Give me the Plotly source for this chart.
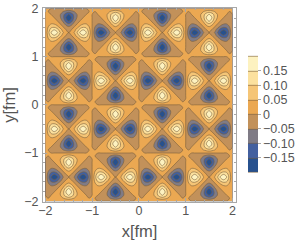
import plotly.graph_objects as go

# one quadrant of a unit cell: rows |v| = 0..1, columns |u| = 0..1
quadrant = [
    [0.000, 0.022, 0.056, 0.106, 0.164, 0.186, 0.152, 0.082, 0.000],
    [-0.020, 0.000, 0.032, 0.074, 0.124, 0.146, 0.124, 0.068, 0.000],
    [-0.052, -0.030, 0.000, 0.032, 0.064, 0.084, 0.080, 0.048, 0.000],
    [-0.102, -0.072, -0.030, 0.000, 0.026, 0.043, 0.046, 0.031, 0.000],
    [-0.166, -0.124, -0.062, -0.025, 0.000, 0.020, 0.025, 0.018, 0.000],
    [-0.192, -0.148, -0.082, -0.042, -0.020, 0.000, 0.010, 0.008, 0.000],
    [-0.154, -0.126, -0.078, -0.045, -0.025, -0.010, 0.000, 0.003, 0.000],
    [-0.080, -0.066, -0.047, -0.030, -0.018, -0.008, -0.003, 0.000, 0.000],
    [0.000, 0.000, 0.000, 0.000, 0.000, 0.000, 0.000, 0.000, 0.000],
]
band_colors = ["#27518E", "#27518E", "#4F67A6", "#8A7F7E", "#C69258",
               "#EAA650", "#F4C070", "#FBD98F", "#FDF2C0", "#FDF2C0"]
bar_ticks = [-0.15, -0.10, -0.05, 0, 0.05, 0.10, 0.15]
bar_labels = ["\u22120.15", "\u22120.10", "\u22120.05", "0", "0.05", "0.10", "0.15"]
axis_ticks = [-2, -1, 0, 1, 2]
axis_labels = ["\u22122", "\u22121", "0", "1", "2"]

N = len(quadrant) - 1
cells = 4
size = 2 * N * cells + 1
xs = [-2 + i / (2 * N) for i in range(size)]
ys = xs[:]
z = []
for r in range(size):
    cy = min(r // (2 * N), cells - 1)
    v = abs(r - (cy * 2 * N + N))
    row = []
    for c in range(size):
        cx = min(c // (2 * N), cells - 1)
        u = abs(c - (cx * 2 * N + N))
        sign = -1 if (cx + cy) % 2 == 0 else 1
        row.append(sign * quadrant[v][u])
    z.append(row)

n = len(band_colors) - 1
scale = [[i / n, col] for i, col in enumerate(band_colors)]
GREY = "#555555"
FRAME = "#a8a8a8"

fig = go.Figure(go.Contour(
    x=xs, y=ys, z=z,
    zmin=-0.2, zmax=0.2,
    autocontour=False,
    contours=dict(start=-0.2, end=0.2, size=0.05, coloring="fill"),
    line=dict(color="#7a5f3c", width=0.6, smoothing=1),
    colorscale=scale,
    colorbar=dict(
        xref="container", yref="container",
        x=248.3 / 300, xanchor="left", y=1 - 70.8 / 244, yanchor="top",
        lenmode="pixels", len=115.7, thickness=9.5, thicknessmode="pixels",
        xpad=0, ypad=0, outlinewidth=0,
        tickmode="array", tickvals=bar_ticks, ticktext=bar_labels,
        ticks="outside", ticklen=3, tickcolor=FRAME,
        tickfont=dict(family="Liberation Sans", size=12.5, color=GREY),
    ),
))
axis = dict(
    tickmode="array", tickvals=axis_ticks, ticktext=axis_labels,
    ticks="inside", ticklen=4, tickcolor=FRAME, tickwidth=1,
    showline=True, linecolor=FRAME, linewidth=1, mirror="allticks",
    showgrid=False, zeroline=False, automargin=False,
    minor=dict(dtick=0.2, ticks="inside", ticklen=2, tickcolor=FRAME, showgrid=False),
    tickfont=dict(family="Liberation Sans", size=12.5, color=GREY),
)
fig.update_xaxes(range=[-2.049, 2.075], ticklabelstandoff=-3,
                 title=dict(text="x[fm]", font=dict(family="Liberation Sans", size=16.5, color=GREY), standoff=8),
                 **axis)
fig.update_yaxes(range=[-2.017, 2.01], ticklabelstandoff=1,
                 title=dict(text="y[fm]", font=dict(family="Liberation Sans", size=16.5, color=GREY), standoff=8),
                 **axis)
fig.update_layout(width=300, height=244, margin=dict(l=43, r=64, t=8, b=42),
                  paper_bgcolor="white", plot_bgcolor="white", showlegend=False)
fig.write_html("out.html", config=dict(displayModeBar=False),
               post_script="document.body.style.margin='0';document.body.style.overflow='hidden';")
